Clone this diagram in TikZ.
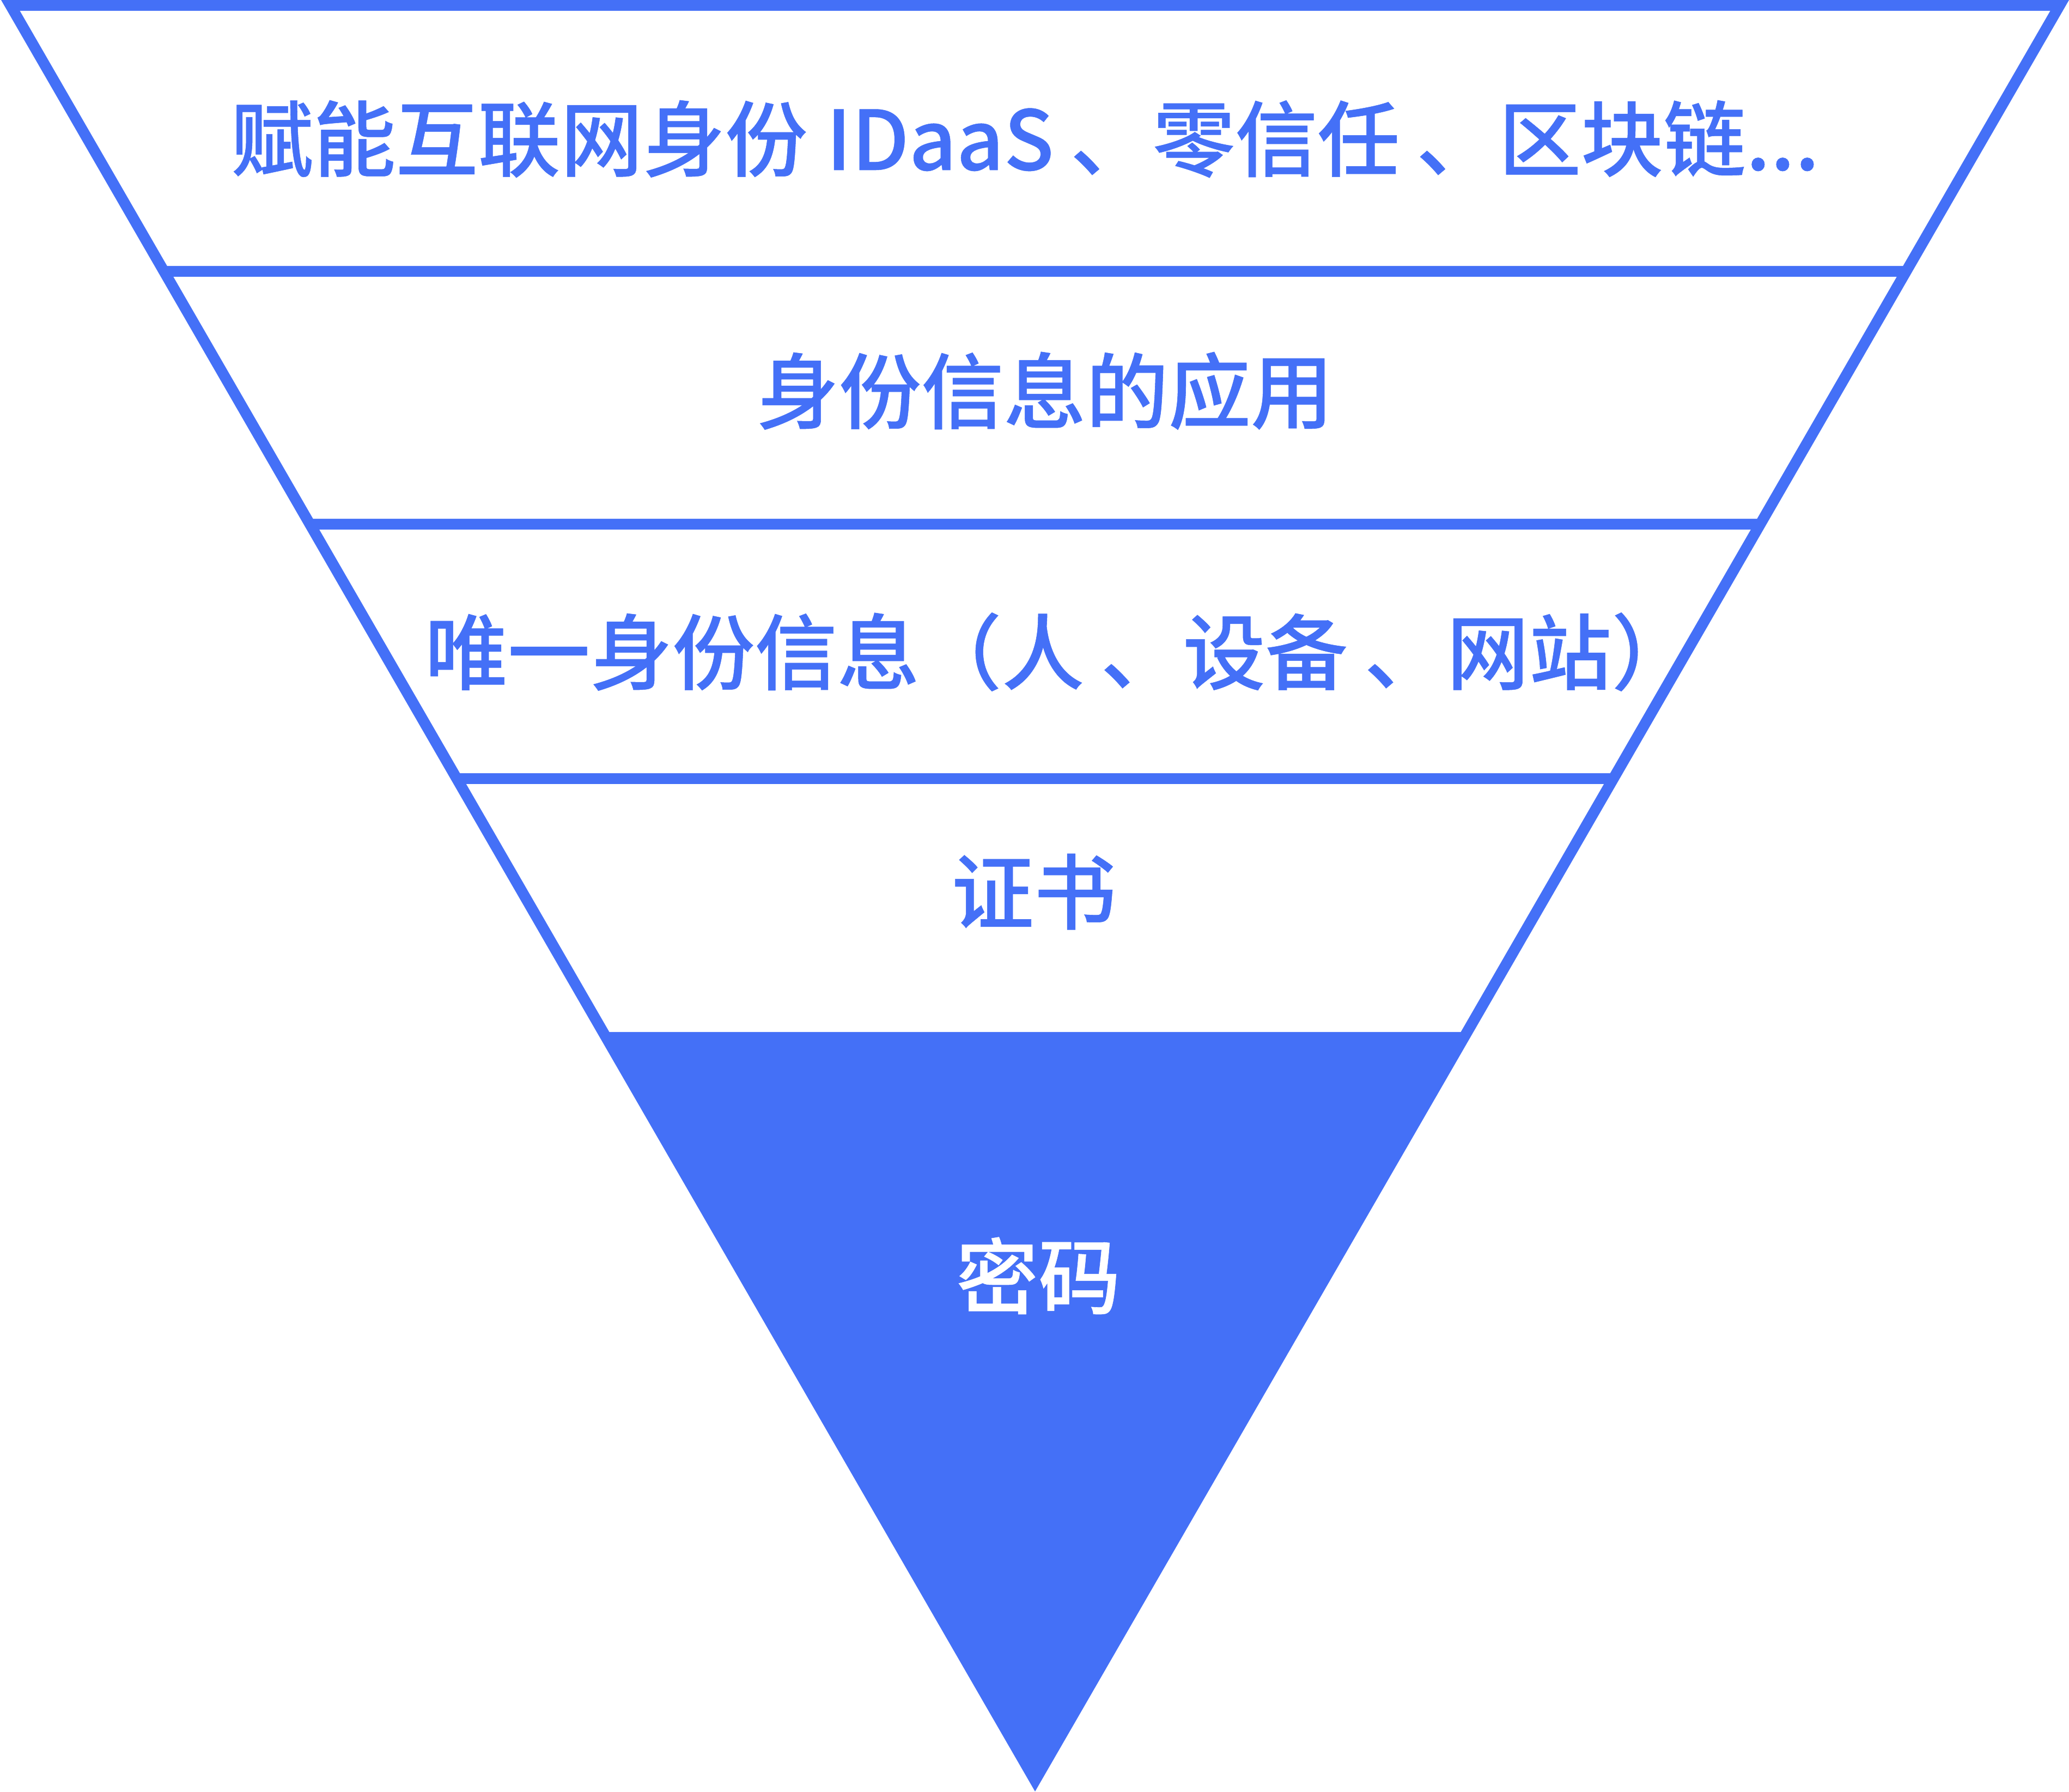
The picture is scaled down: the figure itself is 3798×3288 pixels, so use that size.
\documentclass[tikz,border=0pt]{standalone}
\usepackage{fontspec}
\newfontfamily\cjk[FakeBold=0.35]{Noto Sans CJK SC Medium}
\definecolor{fb}{RGB}{68,112,247}
\newcommand{\dun}{\hspace{0.2em}、}
\begin{document}
\begin{tikzpicture}[x=0.01cm,y=-0.01cm,
  lbl/.style={font=\cjk\fontsize{43}{50}\selectfont, text=fb, inner sep=0, anchor=base},
  wlbl/.style={lbl, text=white}]
\useasboundingbox (0,0) rectangle (3798,3288);
% outer funnel
\fill[fb] (2,0) -- (3798,0) -- (1900,3288) -- cycle;
% white band interiors
\foreach \a/\b in {20/488,508/952,972/1419,1439/1894}{
  \fill[white] ({25.1+0.57735*\a},\a) -- ({3774.9-0.57735*\a},\a) -- ({3774.9-0.57735*\b},\b) -- ({25.1+0.57735*\b},\b) -- cycle;
}
\node[lbl] (l1) at (1882,312) {赋能互联网身份 IDaaS\dun 零信任\dun 区块链...};
\node[lbl] (l2) at (1918,775) {身份信息的应用};
\node[lbl] (l3) at (1945,1254) {唯一身份信息（人\dun 设备\dun 网站）};
\node[lbl] (l4) at (1898,1694) {证书};
\node[wlbl] (l5) at (1906,2400) {密码};
\end{tikzpicture}
\end{document}
